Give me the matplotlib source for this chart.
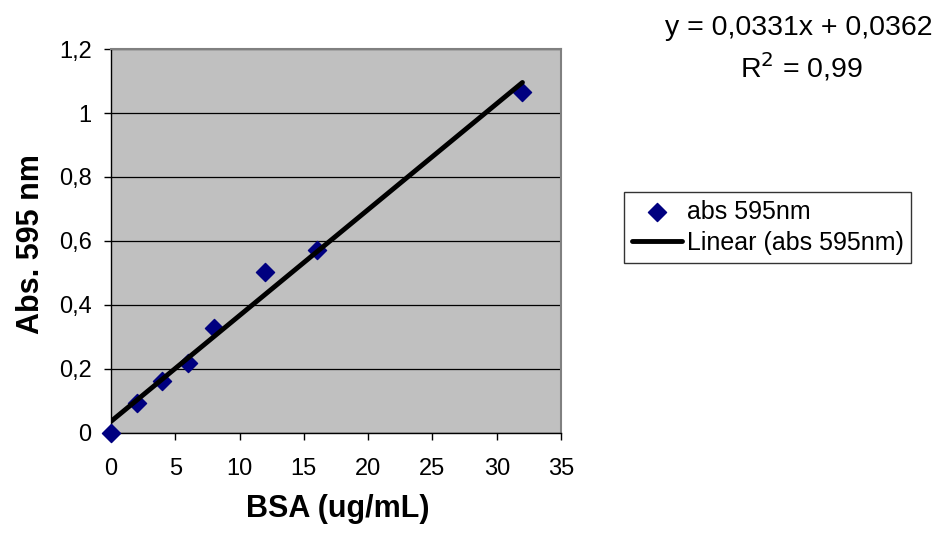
import matplotlib
matplotlib.use("Agg")
import matplotlib.pyplot as plt
import numpy as np

plt.rcParams["font.family"] = ["Liberation Sans", "DejaVu Sans"]

# BSA standard curve
bsa_conc = [0, 2, 4, 6, 8, 12, 16, 32]
abs_595 = [0.0, 0.094, 0.161, 0.218, 0.328, 0.503, 0.571, 1.065]
slope = 0.0331
intercept = 0.0362
x_ticks = [0, 5, 10, 15, 20, 25, 30, 35]
y_ticks = [0, 0.2, 0.4, 0.6, 0.8, 1.0, 1.2]
y_tick_labels = ["0", "0,2", "0,4", "0,6", "0,8", "1", "1,2"]

fig = plt.figure(figsize=(9.47, 5.35), dpi=100)
ax = fig.add_axes([0.1172, 0.1907, 0.4752, 0.7177])
ax.set_facecolor("#C0C0C0")

ax.set_xlim(0, 35)
ax.set_ylim(0, 1.2)
ax.set_xticks(x_ticks)
ax.set_yticks(y_ticks)
ax.set_yticklabels(y_tick_labels)
ax.tick_params(direction="out", length=5, width=1, labelsize=17)
ax.tick_params(axis="x", pad=13)
ax.tick_params(axis="y", pad=9)
ax.grid(axis="y", color="black", linewidth=0.9)
ax.set_axisbelow(True)
for side in ["top", "right"]:
    ax.spines[side].set_color("#808080")
    ax.spines[side].set_linewidth(1.5)
for side in ["left", "bottom"]:
    ax.spines[side].set_color("black")
    ax.spines[side].set_linewidth(1)

ax.scatter(bsa_conc, abs_595, marker="D", s=85, color="#000080",
           zorder=3, clip_on=False, label="abs 595nm")
fit_x = np.array([bsa_conc[0], bsa_conc[-1]])
ax.plot(fit_x, slope * fit_x + intercept, color="black", linewidth=3.5,
        zorder=4, solid_capstyle="round", label="Linear (abs 595nm)")

ax.set_xlabel("BSA (ug/mL)", fontsize=22, fontweight="bold")
ax.xaxis.set_label_coords(0.503, -0.158)
ax.set_ylabel("Abs. 595 nm", fontsize=22, fontweight="bold")
ax.yaxis.set_label_coords(-0.145, 0.492)

leg = fig.legend(loc="upper left", bbox_to_anchor=(0.659, 0.641),
                 fontsize=18, frameon=True, fancybox=False, edgecolor="black",
                 handlelength=2.0, handletextpad=0.2, borderpad=0.3,
                 borderaxespad=0, labelspacing=0.3)
leg.get_frame().set_linewidth(1)

fig.text(0.843, 0.9346, "y = 0,0331x + 0,0362", fontsize=20.5,
         ha="center", va="baseline")
fig.text(0.846, 0.855, "R$^2$ = 0,99", fontsize=20.5,
         ha="center", va="baseline")

fig.savefig("out.png", dpi=100)
